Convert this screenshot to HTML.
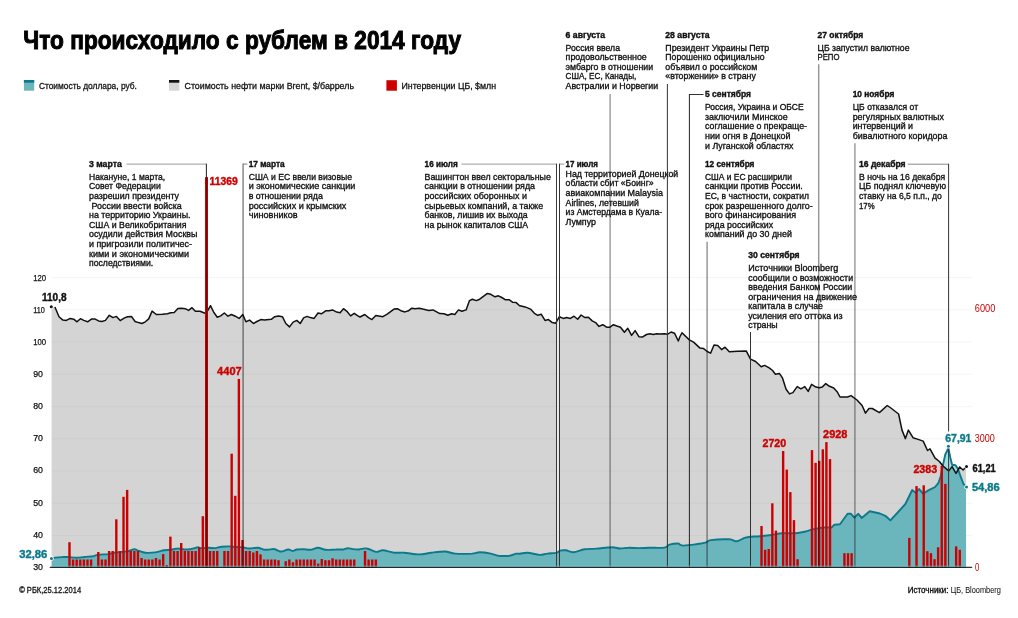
<!DOCTYPE html>
<html><head><meta charset="utf-8"><title>Что происходило с рублем в 2014 году</title>
<style>
html,body{margin:0;padding:0;background:#fff;}
body{width:1018px;height:618px;overflow:hidden;font-family:"Liberation Sans",sans-serif;}
svg{display:block;font-family:"Liberation Sans",sans-serif;}
text{white-space:pre;}
</style></head><body>
<svg width="1018" height="618" viewBox="0 0 1018 618">
<rect width="1018" height="618" fill="#fff"/>
<g stroke="#f5f5f5" stroke-width="1">
<line x1="51.6" y1="277.6" x2="972" y2="277.6"/>
<line x1="51.6" y1="309.8" x2="972" y2="309.8"/>
<line x1="51.6" y1="342.1" x2="972" y2="342.1"/>
<line x1="51.6" y1="374.3" x2="972" y2="374.3"/>
<line x1="51.6" y1="406.6" x2="972" y2="406.6"/>
<line x1="51.6" y1="438.8" x2="972" y2="438.8"/>
<line x1="51.6" y1="471.0" x2="972" y2="471.0"/>
<line x1="51.6" y1="503.3" x2="972" y2="503.3"/>
<line x1="51.6" y1="535.5" x2="972" y2="535.5"/>
</g>
<path d="M51.6,306.5 L54.9,307.0 L59.0,316.7 L62.9,320.1 L66.3,320.4 L70.2,318.4 L74.0,319.3 L77.0,321.8 L80.4,318.7 L83.8,320.4 L87.6,321.8 L91.8,318.9 L94.7,318.9 L98.6,320.9 L102.0,321.5 L105.4,320.4 L109.3,315.3 L113.0,317.6 L116.4,316.4 L120.2,320.6 L124.1,318.1 L127.5,316.7 L131.4,316.4 L135.1,321.5 L138.5,322.6 L141.9,323.5 L145.3,321.8 L148.7,318.9 L152.1,311.1 L156.3,314.5 L162.3,314.2 L167.4,313.8 L170.8,312.8 L174.2,312.5 L177.9,308.6 L181.8,308.2 L185.2,308.7 L188.6,310.4 L192.0,307.7 L195.4,311.3 L198.8,311.3 L200.0,311.3 L205.1,313.3 L207.6,310.8 L210.5,305.7 L213.9,312.5 L217.3,317.2 L220.7,315.9 L224.3,313.0 L228.0,316.2 L231.4,314.5 L235.3,316.2 L239.1,318.4 L242.8,314.5 L245.9,321.8 L249.6,320.1 L253.5,323.5 L256.9,321.5 L260.8,319.6 L264.5,320.1 L271.3,319.3 L274.7,316.7 L278.5,315.9 L282.4,316.7 L285.8,323.5 L289.5,326.9 L293.1,322.1 L296.8,320.4 L300.2,323.5 L303.6,317.9 L307.0,316.4 L310.4,317.6 L314.1,318.4 L318.0,313.0 L321.4,313.8 L325.7,310.8 L329.1,310.8 L332.5,309.9 L336.7,312.1 L340.1,312.8 L343.5,308.7 L346.9,311.3 L350.6,315.9 L354.2,313.3 L357.9,315.9 L360.0,317.0 L364.8,314.5 L368.5,317.6 L371.9,319.6 L375.8,315.5 L382.9,316.7 L387.2,314.2 L394.0,309.1 L397.4,308.7 L401.6,311.1 L405.0,311.9 L408.4,310.8 L411.8,308.2 L415.2,308.7 L419.1,308.2 L422.8,309.1 L428.8,310.4 L433.0,309.9 L439.8,313.6 L444.1,313.8 L447.8,315.3 L451.7,313.8 L454.8,314.5 L458.5,309.9 L461.9,311.3 L466.1,309.9 L469.5,300.6 L472.4,299.2 L476.3,300.6 L479.7,299.2 L487.4,293.4 L490.8,294.3 L495.0,296.8 L498.4,295.8 L501.8,297.5 L505.2,299.7 L509.1,299.7 L512.8,302.3 L516.2,302.6 L519.6,305.7 L520.0,305.7 L525.1,306.9 L530.5,309.1 L534.4,313.3 L537.8,315.3 L541.2,314.2 L545.0,320.4 L548.5,319.6 L552.3,322.6 L555.7,323.2 L559.4,316.7 L563.3,318.4 L566.7,317.6 L570.4,318.4 L574.0,316.2 L577.7,319.3 L581.1,315.0 L584.9,317.6 L588.4,317.2 L592.2,320.9 L595.6,322.6 L599.0,326.4 L602.7,324.7 L606.6,327.2 L610.0,327.2 L613.4,324.7 L616.8,326.0 L620.5,327.2 L624.4,332.3 L627.8,328.3 L631.6,335.4 L635.1,330.6 L638.9,336.7 L642.3,337.1 L646.5,334.5 L649.9,333.7 L653.3,334.5 L656.7,333.7 L660.1,334.0 L664.4,333.7 L667.8,334.2 L671.1,332.0 L674.5,333.2 L678.3,341.0 L680.0,336.5 L682.0,332.8 L689.3,339.9 L693.6,342.1 L700.0,348.1 L703.3,348.4 L707.2,351.5 L710.6,353.2 L714.0,345.0 L717.7,345.5 L721.6,349.6 L725.0,347.2 L729.3,351.8 L737.7,351.3 L746.2,350.9 L750.5,359.1 L755.6,361.5 L761.2,366.7 L764.6,365.4 L769.2,367.9 L772.6,370.5 L775.4,374.2 L779.4,373.4 L782.4,377.8 L786.1,389.2 L789.5,393.9 L792.9,392.6 L797.2,386.6 L800.9,388.8 L804.8,386.6 L808.2,391.4 L811.6,384.4 L815.9,387.1 L819.3,387.8 L822.3,387.0 L825.7,383.6 L829.5,386.3 L833.7,388.0 L837.1,391.7 L840.0,397.0 L847.6,397.0 L851.0,395.6 L857.0,400.0 L862.1,405.5 L865.5,413.1 L868.9,408.5 L872.3,408.5 L879.4,412.6 L887.2,405.5 L890.9,408.0 L898.6,414.0 L902.0,430.1 L905.4,438.6 L908.4,430.1 L913.0,437.7 L918.1,439.4 L923.2,441.1 L927.5,450.5 L930.0,448.8 L935.1,458.1 L939.4,461.5 L942.7,465.8 L948.7,470.9 L952.1,466.6 L956.0,473.4 L959.7,467.0 L963.1,470.0 L966.0,467.0 L966.1,567.4 L51.6,567.4 Z" fill="#d4d4d4"/>
<clipPath id="oc"><path d="M51.6,306.5 L54.9,307.0 L59.0,316.7 L62.9,320.1 L66.3,320.4 L70.2,318.4 L74.0,319.3 L77.0,321.8 L80.4,318.7 L83.8,320.4 L87.6,321.8 L91.8,318.9 L94.7,318.9 L98.6,320.9 L102.0,321.5 L105.4,320.4 L109.3,315.3 L113.0,317.6 L116.4,316.4 L120.2,320.6 L124.1,318.1 L127.5,316.7 L131.4,316.4 L135.1,321.5 L138.5,322.6 L141.9,323.5 L145.3,321.8 L148.7,318.9 L152.1,311.1 L156.3,314.5 L162.3,314.2 L167.4,313.8 L170.8,312.8 L174.2,312.5 L177.9,308.6 L181.8,308.2 L185.2,308.7 L188.6,310.4 L192.0,307.7 L195.4,311.3 L198.8,311.3 L200.0,311.3 L205.1,313.3 L207.6,310.8 L210.5,305.7 L213.9,312.5 L217.3,317.2 L220.7,315.9 L224.3,313.0 L228.0,316.2 L231.4,314.5 L235.3,316.2 L239.1,318.4 L242.8,314.5 L245.9,321.8 L249.6,320.1 L253.5,323.5 L256.9,321.5 L260.8,319.6 L264.5,320.1 L271.3,319.3 L274.7,316.7 L278.5,315.9 L282.4,316.7 L285.8,323.5 L289.5,326.9 L293.1,322.1 L296.8,320.4 L300.2,323.5 L303.6,317.9 L307.0,316.4 L310.4,317.6 L314.1,318.4 L318.0,313.0 L321.4,313.8 L325.7,310.8 L329.1,310.8 L332.5,309.9 L336.7,312.1 L340.1,312.8 L343.5,308.7 L346.9,311.3 L350.6,315.9 L354.2,313.3 L357.9,315.9 L360.0,317.0 L364.8,314.5 L368.5,317.6 L371.9,319.6 L375.8,315.5 L382.9,316.7 L387.2,314.2 L394.0,309.1 L397.4,308.7 L401.6,311.1 L405.0,311.9 L408.4,310.8 L411.8,308.2 L415.2,308.7 L419.1,308.2 L422.8,309.1 L428.8,310.4 L433.0,309.9 L439.8,313.6 L444.1,313.8 L447.8,315.3 L451.7,313.8 L454.8,314.5 L458.5,309.9 L461.9,311.3 L466.1,309.9 L469.5,300.6 L472.4,299.2 L476.3,300.6 L479.7,299.2 L487.4,293.4 L490.8,294.3 L495.0,296.8 L498.4,295.8 L501.8,297.5 L505.2,299.7 L509.1,299.7 L512.8,302.3 L516.2,302.6 L519.6,305.7 L520.0,305.7 L525.1,306.9 L530.5,309.1 L534.4,313.3 L537.8,315.3 L541.2,314.2 L545.0,320.4 L548.5,319.6 L552.3,322.6 L555.7,323.2 L559.4,316.7 L563.3,318.4 L566.7,317.6 L570.4,318.4 L574.0,316.2 L577.7,319.3 L581.1,315.0 L584.9,317.6 L588.4,317.2 L592.2,320.9 L595.6,322.6 L599.0,326.4 L602.7,324.7 L606.6,327.2 L610.0,327.2 L613.4,324.7 L616.8,326.0 L620.5,327.2 L624.4,332.3 L627.8,328.3 L631.6,335.4 L635.1,330.6 L638.9,336.7 L642.3,337.1 L646.5,334.5 L649.9,333.7 L653.3,334.5 L656.7,333.7 L660.1,334.0 L664.4,333.7 L667.8,334.2 L671.1,332.0 L674.5,333.2 L678.3,341.0 L680.0,336.5 L682.0,332.8 L689.3,339.9 L693.6,342.1 L700.0,348.1 L703.3,348.4 L707.2,351.5 L710.6,353.2 L714.0,345.0 L717.7,345.5 L721.6,349.6 L725.0,347.2 L729.3,351.8 L737.7,351.3 L746.2,350.9 L750.5,359.1 L755.6,361.5 L761.2,366.7 L764.6,365.4 L769.2,367.9 L772.6,370.5 L775.4,374.2 L779.4,373.4 L782.4,377.8 L786.1,389.2 L789.5,393.9 L792.9,392.6 L797.2,386.6 L800.9,388.8 L804.8,386.6 L808.2,391.4 L811.6,384.4 L815.9,387.1 L819.3,387.8 L822.3,387.0 L825.7,383.6 L829.5,386.3 L833.7,388.0 L837.1,391.7 L840.0,397.0 L847.6,397.0 L851.0,395.6 L857.0,400.0 L862.1,405.5 L865.5,413.1 L868.9,408.5 L872.3,408.5 L879.4,412.6 L887.2,405.5 L890.9,408.0 L898.6,414.0 L902.0,430.1 L905.4,438.6 L908.4,430.1 L913.0,437.7 L918.1,439.4 L923.2,441.1 L927.5,450.5 L930.0,448.8 L935.1,458.1 L939.4,461.5 L942.7,465.8 L948.7,470.9 L952.1,466.6 L956.0,473.4 L959.7,467.0 L963.1,470.0 L966.0,467.0 L966.1,567.4 L51.6,567.4 Z"/></clipPath>
<g stroke="#cecece" stroke-width="1" clip-path="url(#oc)">
<line x1="51.6" y1="277.6" x2="972" y2="277.6"/>
<line x1="51.6" y1="309.8" x2="972" y2="309.8"/>
<line x1="51.6" y1="342.1" x2="972" y2="342.1"/>
<line x1="51.6" y1="374.3" x2="972" y2="374.3"/>
<line x1="51.6" y1="406.6" x2="972" y2="406.6"/>
<line x1="51.6" y1="438.8" x2="972" y2="438.8"/>
<line x1="51.6" y1="471.0" x2="972" y2="471.0"/>
<line x1="51.6" y1="503.3" x2="972" y2="503.3"/>
<line x1="51.6" y1="535.5" x2="972" y2="535.5"/>
</g>
<rect x="557" y="300" width="2" height="266.5" fill="#e9e9e9" clip-path="url(#oc)"/>
<path d="M51.6,558.3 C52.2,558.2 53.5,557.8 55.3,557.6 C57.0,557.4 60.0,557.2 62.1,557.1 C64.2,557.0 65.6,556.8 68.0,557.0 C70.4,557.1 73.8,557.8 76.5,557.8 C79.2,557.8 81.5,557.2 84.2,557.0 C86.8,556.7 90.4,556.6 92.6,556.3 C94.9,555.9 95.2,555.3 97.7,554.9 C100.3,554.5 105.1,554.4 107.9,554.1 C110.8,553.7 112.5,553.1 114.7,552.7 C117.0,552.3 119.3,552.1 121.5,551.9 C123.8,551.6 126.2,551.6 128.3,551.2 C130.4,550.8 132.6,549.4 134.3,549.3 C136.0,549.2 136.7,550.1 138.5,550.7 C140.3,551.2 142.5,552.4 145.3,552.7 C148.1,553.0 152.4,552.8 155.5,552.4 C158.6,552.0 161.4,550.8 164.0,550.3 C166.5,549.9 168.5,550.1 170.8,549.8 C173.0,549.5 175.3,548.5 177.6,548.5 C179.8,548.4 182.1,549.4 184.4,549.5 C186.6,549.6 188.9,549.3 191.1,549.0 C193.4,548.6 196.5,547.4 197.9,547.3 C199.4,547.1 198.2,548.0 200.0,548.1 C201.8,548.2 205.9,547.8 208.5,547.8 C211.0,547.8 213.2,548.3 215.3,548.1 C217.4,548.0 219.0,547.0 221.2,546.8 C223.5,546.5 226.7,546.4 228.9,546.4 C231.0,546.4 231.7,546.6 234.0,546.8 C236.2,546.9 239.9,547.0 242.5,547.3 C245.0,547.6 246.7,548.4 249.3,548.5 C251.8,548.5 255.3,547.6 257.7,547.8 C260.1,548.0 262.0,549.1 263.7,549.5 C265.4,549.8 266.2,549.9 267.9,549.8 C269.6,549.7 272.2,548.8 273.9,549.0 C275.6,549.1 276.8,550.2 278.1,550.7 C279.4,551.1 279.8,551.7 281.5,551.5 C283.2,551.3 286.5,549.6 288.3,549.5 C290.2,549.4 291.1,551.0 292.6,551.0 C294.0,551.0 295.0,549.8 296.8,549.5 C298.6,549.2 301.3,549.1 303.6,549.1 C305.9,549.2 308.0,550.0 310.4,549.8 C312.8,549.6 315.5,547.8 318.0,547.8 C320.6,547.8 322.7,549.5 325.7,549.8 C328.6,550.1 333.0,549.5 335.9,549.5 C338.7,549.4 340.7,549.7 342.7,549.5 C344.6,549.3 346.1,548.2 347.8,548.1 C349.5,548.1 351.0,548.9 352.8,549.1 C354.7,549.4 357.6,549.5 358.8,549.5 C360.0,549.5 358.7,549.3 360.0,549.1 C361.3,549.0 364.1,548.0 366.8,548.5 C369.5,548.9 373.4,551.5 376.1,551.9 C378.8,552.2 380.0,550.2 382.9,550.3 C385.9,550.5 390.4,552.3 394.0,552.7 C397.5,553.1 399.9,552.4 404.2,552.7 C408.4,553.0 414.9,554.4 419.4,554.4 C424.0,554.4 427.1,553.2 431.3,552.7 C435.6,552.2 441.0,551.4 444.9,551.5 C448.9,551.7 450.6,553.2 455.1,553.6 C459.6,553.9 468.0,553.8 472.1,553.6 C476.2,553.3 476.6,552.2 479.7,552.2 C482.8,552.2 487.7,553.0 490.8,553.6 C493.9,554.2 495.3,555.4 498.4,555.8 C501.5,556.1 506.5,556.1 509.5,555.8 C512.4,555.4 514.5,554.1 516.2,553.7 C518.0,553.4 518.1,553.9 520.0,553.7 C521.9,553.6 524.4,552.5 527.6,552.7 C530.9,552.9 536.3,554.8 539.5,554.9 C542.8,555.1 544.4,553.9 547.2,553.6 C550.0,553.2 554.2,553.4 556.3,552.9 C558.5,552.4 558.3,551.1 559.9,550.7 C561.5,550.2 563.6,550.1 565.9,550.3 C568.1,550.6 570.4,552.4 573.5,552.2 C576.6,552.0 580.7,549.9 584.5,549.3 C588.4,548.7 591.9,549.0 596.4,548.6 C601.0,548.3 607.7,547.3 611.7,547.3 C615.7,547.2 617.4,548.4 620.2,548.5 C623.0,548.5 625.6,547.8 628.7,547.8 C631.8,547.7 635.5,548.1 638.9,548.1 C642.3,548.1 644.8,547.9 649.1,547.8 C653.3,547.7 661.0,548.1 664.4,547.6 C667.8,547.1 667.2,545.4 669.5,544.7 C671.7,544.0 676.2,543.5 677.9,543.5 C679.7,543.5 679.1,544.4 680.0,544.7 C680.9,545.1 680.8,545.6 683.4,545.6 C685.9,545.5 691.6,544.9 695.3,544.4 C699.0,543.9 702.9,543.4 705.5,542.7 C708.0,542.0 706.6,540.7 710.6,540.1 C714.5,539.6 724.9,539.1 729.3,539.3 C733.6,539.5 734.3,541.6 736.9,541.3 C739.4,541.1 742.3,538.7 744.5,537.9 C746.8,537.2 747.9,537.0 750.5,536.7 C753.0,536.5 756.3,536.5 759.8,536.2 C763.4,536.0 768.0,535.6 771.7,535.0 C775.4,534.5 777.9,533.5 781.9,533.2 C785.9,532.9 791.5,533.5 795.5,533.2 C799.4,532.9 802.8,532.1 805.7,531.5 C808.5,530.9 809.1,530.1 812.5,529.4 C815.9,528.7 822.9,527.5 826.1,527.2 C829.2,526.9 829.7,528.2 831.1,527.7 C832.6,527.3 833.1,525.3 834.5,524.7 C834.5,524.7 840.0,524.3 840.0,524.3 C840.0,524.3 847.6,513.8 847.6,513.8 C847.6,513.8 851.0,513.8 851.0,513.8 C851.0,513.8 854.4,517.6 854.4,517.6 C854.4,517.6 858.3,513.8 858.3,513.8 C858.3,513.8 861.7,517.9 861.7,517.9 C861.7,517.9 869.7,511.3 869.7,511.3 C869.7,511.3 879.9,513.5 879.9,513.5 C879.9,513.5 885.9,516.2 885.9,516.2 C885.9,516.2 890.4,520.4 890.4,520.4 C890.4,520.4 897.7,512.5 897.7,512.5 C897.7,512.5 905.4,504.0 905.4,504.0 C905.4,504.0 912.2,490.0 912.2,490.0 C912.2,490.0 915.6,492.9 915.6,492.9 C915.6,492.9 919.0,489.0 919.0,489.0 C919.0,489.0 923.2,493.8 923.2,493.8 C923.2,493.8 928.3,490.4 928.3,490.4 C928.3,490.4 935.1,487.0 935.1,487.0 C935.1,487.0 938.5,482.8 938.5,482.8 C938.5,482.8 940.8,476.0 940.8,476.0 C940.8,476.0 943.0,464.7 943.0,464.7 C943.0,464.7 945.3,454.5 945.3,454.5 C945.3,454.5 948.4,448.2 948.4,448.2 C948.4,448.2 950.4,457.9 950.4,457.9 C950.4,457.9 952.1,464.7 952.1,464.7 C952.1,464.7 955.5,465.2 955.5,465.2 C955.5,465.2 957.8,468.6 957.8,468.6 C957.8,468.6 960.0,474.8 960.0,474.8 C960.0,474.8 963.4,483.9 963.4,483.9 C963.4,483.9 966.0,487.0 966.0,487.0 L966.1,567.4 L51.6,567.4 Z" fill="#a5dde3"/>
<path d="M51.6,558.3 C52.2,558.2 53.5,557.8 55.3,557.6 C57.0,557.4 60.0,557.2 62.1,557.1 C64.2,557.0 65.6,556.8 68.0,557.0 C70.4,557.1 73.8,557.8 76.5,557.8 C79.2,557.8 81.5,557.2 84.2,557.0 C86.8,556.7 90.4,556.6 92.6,556.3 C94.9,555.9 95.2,555.3 97.7,554.9 C100.3,554.5 105.1,554.4 107.9,554.1 C110.8,553.7 112.5,553.1 114.7,552.7 C117.0,552.3 119.3,552.1 121.5,551.9 C123.8,551.6 126.2,551.6 128.3,551.2 C130.4,550.8 132.6,549.4 134.3,549.3 C136.0,549.2 136.7,550.1 138.5,550.7 C140.3,551.2 142.5,552.4 145.3,552.7 C148.1,553.0 152.4,552.8 155.5,552.4 C158.6,552.0 161.4,550.8 164.0,550.3 C166.5,549.9 168.5,550.1 170.8,549.8 C173.0,549.5 175.3,548.5 177.6,548.5 C179.8,548.4 182.1,549.4 184.4,549.5 C186.6,549.6 188.9,549.3 191.1,549.0 C193.4,548.6 196.5,547.4 197.9,547.3 C199.4,547.1 198.2,548.0 200.0,548.1 C201.8,548.2 205.9,547.8 208.5,547.8 C211.0,547.8 213.2,548.3 215.3,548.1 C217.4,548.0 219.0,547.0 221.2,546.8 C223.5,546.5 226.7,546.4 228.9,546.4 C231.0,546.4 231.7,546.6 234.0,546.8 C236.2,546.9 239.9,547.0 242.5,547.3 C245.0,547.6 246.7,548.4 249.3,548.5 C251.8,548.5 255.3,547.6 257.7,547.8 C260.1,548.0 262.0,549.1 263.7,549.5 C265.4,549.8 266.2,549.9 267.9,549.8 C269.6,549.7 272.2,548.8 273.9,549.0 C275.6,549.1 276.8,550.2 278.1,550.7 C279.4,551.1 279.8,551.7 281.5,551.5 C283.2,551.3 286.5,549.6 288.3,549.5 C290.2,549.4 291.1,551.0 292.6,551.0 C294.0,551.0 295.0,549.8 296.8,549.5 C298.6,549.2 301.3,549.1 303.6,549.1 C305.9,549.2 308.0,550.0 310.4,549.8 C312.8,549.6 315.5,547.8 318.0,547.8 C320.6,547.8 322.7,549.5 325.7,549.8 C328.6,550.1 333.0,549.5 335.9,549.5 C338.7,549.4 340.7,549.7 342.7,549.5 C344.6,549.3 346.1,548.2 347.8,548.1 C349.5,548.1 351.0,548.9 352.8,549.1 C354.7,549.4 357.6,549.5 358.8,549.5 C360.0,549.5 358.7,549.3 360.0,549.1 C361.3,549.0 364.1,548.0 366.8,548.5 C369.5,548.9 373.4,551.5 376.1,551.9 C378.8,552.2 380.0,550.2 382.9,550.3 C385.9,550.5 390.4,552.3 394.0,552.7 C397.5,553.1 399.9,552.4 404.2,552.7 C408.4,553.0 414.9,554.4 419.4,554.4 C424.0,554.4 427.1,553.2 431.3,552.7 C435.6,552.2 441.0,551.4 444.9,551.5 C448.9,551.7 450.6,553.2 455.1,553.6 C459.6,553.9 468.0,553.8 472.1,553.6 C476.2,553.3 476.6,552.2 479.7,552.2 C482.8,552.2 487.7,553.0 490.8,553.6 C493.9,554.2 495.3,555.4 498.4,555.8 C501.5,556.1 506.5,556.1 509.5,555.8 C512.4,555.4 514.5,554.1 516.2,553.7 C518.0,553.4 518.1,553.9 520.0,553.7 C521.9,553.6 524.4,552.5 527.6,552.7 C530.9,552.9 536.3,554.8 539.5,554.9 C542.8,555.1 544.4,553.9 547.2,553.6 C550.0,553.2 554.2,553.4 556.3,552.9 C558.5,552.4 558.3,551.1 559.9,550.7 C561.5,550.2 563.6,550.1 565.9,550.3 C568.1,550.6 570.4,552.4 573.5,552.2 C576.6,552.0 580.7,549.9 584.5,549.3 C588.4,548.7 591.9,549.0 596.4,548.6 C601.0,548.3 607.7,547.3 611.7,547.3 C615.7,547.2 617.4,548.4 620.2,548.5 C623.0,548.5 625.6,547.8 628.7,547.8 C631.8,547.7 635.5,548.1 638.9,548.1 C642.3,548.1 644.8,547.9 649.1,547.8 C653.3,547.7 661.0,548.1 664.4,547.6 C667.8,547.1 667.2,545.4 669.5,544.7 C671.7,544.0 676.2,543.5 677.9,543.5 C679.7,543.5 679.1,544.4 680.0,544.7 C680.9,545.1 680.8,545.6 683.4,545.6 C685.9,545.5 691.6,544.9 695.3,544.4 C699.0,543.9 702.9,543.4 705.5,542.7 C708.0,542.0 706.6,540.7 710.6,540.1 C714.5,539.6 724.9,539.1 729.3,539.3 C733.6,539.5 734.3,541.6 736.9,541.3 C739.4,541.1 742.3,538.7 744.5,537.9 C746.8,537.2 747.9,537.0 750.5,536.7 C753.0,536.5 756.3,536.5 759.8,536.2 C763.4,536.0 768.0,535.6 771.7,535.0 C775.4,534.5 777.9,533.5 781.9,533.2 C785.9,532.9 791.5,533.5 795.5,533.2 C799.4,532.9 802.8,532.1 805.7,531.5 C808.5,530.9 809.1,530.1 812.5,529.4 C815.9,528.7 822.9,527.5 826.1,527.2 C829.2,526.9 829.7,528.2 831.1,527.7 C832.6,527.3 833.1,525.3 834.5,524.7 C834.5,524.7 840.0,524.3 840.0,524.3 C840.0,524.3 847.6,513.8 847.6,513.8 C847.6,513.8 851.0,513.8 851.0,513.8 C851.0,513.8 854.4,517.6 854.4,517.6 C854.4,517.6 858.3,513.8 858.3,513.8 C858.3,513.8 861.7,517.9 861.7,517.9 C861.7,517.9 869.7,511.3 869.7,511.3 C869.7,511.3 879.9,513.5 879.9,513.5 C879.9,513.5 885.9,516.2 885.9,516.2 C885.9,516.2 890.4,520.4 890.4,520.4 C890.4,520.4 897.7,512.5 897.7,512.5 C897.7,512.5 905.4,504.0 905.4,504.0 C905.4,504.0 912.2,490.0 912.2,490.0 C912.2,490.0 915.6,492.9 915.6,492.9 C915.6,492.9 919.0,489.0 919.0,489.0 C919.0,489.0 923.2,493.8 923.2,493.8 C923.2,493.8 928.3,490.4 928.3,490.4 C928.3,490.4 935.1,487.0 935.1,487.0 C935.1,487.0 938.5,482.8 938.5,482.8 C938.5,482.8 940.8,476.0 940.8,476.0 C940.8,476.0 943.0,464.7 943.0,464.7 C943.0,464.7 945.3,454.5 945.3,454.5 C945.3,454.5 948.4,448.2 948.4,448.2 C948.4,448.2 950.4,457.9 950.4,457.9 C950.4,457.9 952.1,464.7 952.1,464.7 C952.1,464.7 955.5,465.2 955.5,465.2 C955.5,465.2 957.8,468.6 957.8,468.6 C957.8,468.6 960.0,474.8 960.0,474.8 C960.0,474.8 963.4,483.9 963.4,483.9 C963.4,483.9 966.0,487.0 966.0,487.0 L966.1,567.4 L51.6,567.4 Z" fill="#6bb5bd" clip-path="url(#oc)"/>
<path d="M51.6,558.3 C52.2,558.2 53.5,557.8 55.3,557.6 C57.0,557.4 60.0,557.2 62.1,557.1 C64.2,557.0 65.6,556.8 68.0,557.0 C70.4,557.1 73.8,557.8 76.5,557.8 C79.2,557.8 81.5,557.2 84.2,557.0 C86.8,556.7 90.4,556.6 92.6,556.3 C94.9,555.9 95.2,555.3 97.7,554.9 C100.3,554.5 105.1,554.4 107.9,554.1 C110.8,553.7 112.5,553.1 114.7,552.7 C117.0,552.3 119.3,552.1 121.5,551.9 C123.8,551.6 126.2,551.6 128.3,551.2 C130.4,550.8 132.6,549.4 134.3,549.3 C136.0,549.2 136.7,550.1 138.5,550.7 C140.3,551.2 142.5,552.4 145.3,552.7 C148.1,553.0 152.4,552.8 155.5,552.4 C158.6,552.0 161.4,550.8 164.0,550.3 C166.5,549.9 168.5,550.1 170.8,549.8 C173.0,549.5 175.3,548.5 177.6,548.5 C179.8,548.4 182.1,549.4 184.4,549.5 C186.6,549.6 188.9,549.3 191.1,549.0 C193.4,548.6 196.5,547.4 197.9,547.3 C199.4,547.1 198.2,548.0 200.0,548.1 C201.8,548.2 205.9,547.8 208.5,547.8 C211.0,547.8 213.2,548.3 215.3,548.1 C217.4,548.0 219.0,547.0 221.2,546.8 C223.5,546.5 226.7,546.4 228.9,546.4 C231.0,546.4 231.7,546.6 234.0,546.8 C236.2,546.9 239.9,547.0 242.5,547.3 C245.0,547.6 246.7,548.4 249.3,548.5 C251.8,548.5 255.3,547.6 257.7,547.8 C260.1,548.0 262.0,549.1 263.7,549.5 C265.4,549.8 266.2,549.9 267.9,549.8 C269.6,549.7 272.2,548.8 273.9,549.0 C275.6,549.1 276.8,550.2 278.1,550.7 C279.4,551.1 279.8,551.7 281.5,551.5 C283.2,551.3 286.5,549.6 288.3,549.5 C290.2,549.4 291.1,551.0 292.6,551.0 C294.0,551.0 295.0,549.8 296.8,549.5 C298.6,549.2 301.3,549.1 303.6,549.1 C305.9,549.2 308.0,550.0 310.4,549.8 C312.8,549.6 315.5,547.8 318.0,547.8 C320.6,547.8 322.7,549.5 325.7,549.8 C328.6,550.1 333.0,549.5 335.9,549.5 C338.7,549.4 340.7,549.7 342.7,549.5 C344.6,549.3 346.1,548.2 347.8,548.1 C349.5,548.1 351.0,548.9 352.8,549.1 C354.7,549.4 357.6,549.5 358.8,549.5 C360.0,549.5 358.7,549.3 360.0,549.1 C361.3,549.0 364.1,548.0 366.8,548.5 C369.5,548.9 373.4,551.5 376.1,551.9 C378.8,552.2 380.0,550.2 382.9,550.3 C385.9,550.5 390.4,552.3 394.0,552.7 C397.5,553.1 399.9,552.4 404.2,552.7 C408.4,553.0 414.9,554.4 419.4,554.4 C424.0,554.4 427.1,553.2 431.3,552.7 C435.6,552.2 441.0,551.4 444.9,551.5 C448.9,551.7 450.6,553.2 455.1,553.6 C459.6,553.9 468.0,553.8 472.1,553.6 C476.2,553.3 476.6,552.2 479.7,552.2 C482.8,552.2 487.7,553.0 490.8,553.6 C493.9,554.2 495.3,555.4 498.4,555.8 C501.5,556.1 506.5,556.1 509.5,555.8 C512.4,555.4 514.5,554.1 516.2,553.7 C518.0,553.4 518.1,553.9 520.0,553.7 C521.9,553.6 524.4,552.5 527.6,552.7 C530.9,552.9 536.3,554.8 539.5,554.9 C542.8,555.1 544.4,553.9 547.2,553.6 C550.0,553.2 554.2,553.4 556.3,552.9 C558.5,552.4 558.3,551.1 559.9,550.7 C561.5,550.2 563.6,550.1 565.9,550.3 C568.1,550.6 570.4,552.4 573.5,552.2 C576.6,552.0 580.7,549.9 584.5,549.3 C588.4,548.7 591.9,549.0 596.4,548.6 C601.0,548.3 607.7,547.3 611.7,547.3 C615.7,547.2 617.4,548.4 620.2,548.5 C623.0,548.5 625.6,547.8 628.7,547.8 C631.8,547.7 635.5,548.1 638.9,548.1 C642.3,548.1 644.8,547.9 649.1,547.8 C653.3,547.7 661.0,548.1 664.4,547.6 C667.8,547.1 667.2,545.4 669.5,544.7 C671.7,544.0 676.2,543.5 677.9,543.5 C679.7,543.5 679.1,544.4 680.0,544.7 C680.9,545.1 680.8,545.6 683.4,545.6 C685.9,545.5 691.6,544.9 695.3,544.4 C699.0,543.9 702.9,543.4 705.5,542.7 C708.0,542.0 706.6,540.7 710.6,540.1 C714.5,539.6 724.9,539.1 729.3,539.3 C733.6,539.5 734.3,541.6 736.9,541.3 C739.4,541.1 742.3,538.7 744.5,537.9 C746.8,537.2 747.9,537.0 750.5,536.7 C753.0,536.5 756.3,536.5 759.8,536.2 C763.4,536.0 768.0,535.6 771.7,535.0 C775.4,534.5 777.9,533.5 781.9,533.2 C785.9,532.9 791.5,533.5 795.5,533.2 C799.4,532.9 802.8,532.1 805.7,531.5 C808.5,530.9 809.1,530.1 812.5,529.4 C815.9,528.7 822.9,527.5 826.1,527.2 C829.2,526.9 829.7,528.2 831.1,527.7 C832.6,527.3 833.1,525.3 834.5,524.7 C834.5,524.7 840.0,524.3 840.0,524.3 C840.0,524.3 847.6,513.8 847.6,513.8 C847.6,513.8 851.0,513.8 851.0,513.8 C851.0,513.8 854.4,517.6 854.4,517.6 C854.4,517.6 858.3,513.8 858.3,513.8 C858.3,513.8 861.7,517.9 861.7,517.9 C861.7,517.9 869.7,511.3 869.7,511.3 C869.7,511.3 879.9,513.5 879.9,513.5 C879.9,513.5 885.9,516.2 885.9,516.2 C885.9,516.2 890.4,520.4 890.4,520.4 C890.4,520.4 897.7,512.5 897.7,512.5 C897.7,512.5 905.4,504.0 905.4,504.0 C905.4,504.0 912.2,490.0 912.2,490.0 C912.2,490.0 915.6,492.9 915.6,492.9 C915.6,492.9 919.0,489.0 919.0,489.0 C919.0,489.0 923.2,493.8 923.2,493.8 C923.2,493.8 928.3,490.4 928.3,490.4 C928.3,490.4 935.1,487.0 935.1,487.0 C935.1,487.0 938.5,482.8 938.5,482.8 C938.5,482.8 940.8,476.0 940.8,476.0 C940.8,476.0 943.0,464.7 943.0,464.7 C943.0,464.7 945.3,454.5 945.3,454.5 C945.3,454.5 948.4,448.2 948.4,448.2 C948.4,448.2 950.4,457.9 950.4,457.9 C950.4,457.9 952.1,464.7 952.1,464.7 C952.1,464.7 955.5,465.2 955.5,465.2 C955.5,465.2 957.8,468.6 957.8,468.6 C957.8,468.6 960.0,474.8 960.0,474.8 C960.0,474.8 963.4,483.9 963.4,483.9 C963.4,483.9 966.0,487.0 966.0,487.0" fill="none" stroke="#0c7a8a" stroke-width="1.9" stroke-linejoin="round"/>
<path d="M54.9,307.0 L59.0,316.7 L62.9,320.1 L66.3,320.4 L70.2,318.4 L74.0,319.3 L77.0,321.8 L80.4,318.7 L83.8,320.4 L87.6,321.8 L91.8,318.9 L94.7,318.9 L98.6,320.9 L102.0,321.5 L105.4,320.4 L109.3,315.3 L113.0,317.6 L116.4,316.4 L120.2,320.6 L124.1,318.1 L127.5,316.7 L131.4,316.4 L135.1,321.5 L138.5,322.6 L141.9,323.5 L145.3,321.8 L148.7,318.9 L152.1,311.1 L156.3,314.5 L162.3,314.2 L167.4,313.8 L170.8,312.8 L174.2,312.5 L177.9,308.6 L181.8,308.2 L185.2,308.7 L188.6,310.4 L192.0,307.7 L195.4,311.3 L198.8,311.3 L200.0,311.3 L205.1,313.3 L207.6,310.8 L210.5,305.7 L213.9,312.5 L217.3,317.2 L220.7,315.9 L224.3,313.0 L228.0,316.2 L231.4,314.5 L235.3,316.2 L239.1,318.4 L242.8,314.5 L245.9,321.8 L249.6,320.1 L253.5,323.5 L256.9,321.5 L260.8,319.6 L264.5,320.1 L271.3,319.3 L274.7,316.7 L278.5,315.9 L282.4,316.7 L285.8,323.5 L289.5,326.9 L293.1,322.1 L296.8,320.4 L300.2,323.5 L303.6,317.9 L307.0,316.4 L310.4,317.6 L314.1,318.4 L318.0,313.0 L321.4,313.8 L325.7,310.8 L329.1,310.8 L332.5,309.9 L336.7,312.1 L340.1,312.8 L343.5,308.7 L346.9,311.3 L350.6,315.9 L354.2,313.3 L357.9,315.9 L360.0,317.0 L364.8,314.5 L368.5,317.6 L371.9,319.6 L375.8,315.5 L382.9,316.7 L387.2,314.2 L394.0,309.1 L397.4,308.7 L401.6,311.1 L405.0,311.9 L408.4,310.8 L411.8,308.2 L415.2,308.7 L419.1,308.2 L422.8,309.1 L428.8,310.4 L433.0,309.9 L439.8,313.6 L444.1,313.8 L447.8,315.3 L451.7,313.8 L454.8,314.5 L458.5,309.9 L461.9,311.3 L466.1,309.9 L469.5,300.6 L472.4,299.2 L476.3,300.6 L479.7,299.2 L487.4,293.4 L490.8,294.3 L495.0,296.8 L498.4,295.8 L501.8,297.5 L505.2,299.7 L509.1,299.7 L512.8,302.3 L516.2,302.6 L519.6,305.7 L520.0,305.7 L525.1,306.9 L530.5,309.1 L534.4,313.3 L537.8,315.3 L541.2,314.2 L545.0,320.4 L548.5,319.6 L552.3,322.6 L555.7,323.2 L559.4,316.7 L563.3,318.4 L566.7,317.6 L570.4,318.4 L574.0,316.2 L577.7,319.3 L581.1,315.0 L584.9,317.6 L588.4,317.2 L592.2,320.9 L595.6,322.6 L599.0,326.4 L602.7,324.7 L606.6,327.2 L610.0,327.2 L613.4,324.7 L616.8,326.0 L620.5,327.2 L624.4,332.3 L627.8,328.3 L631.6,335.4 L635.1,330.6 L638.9,336.7 L642.3,337.1 L646.5,334.5 L649.9,333.7 L653.3,334.5 L656.7,333.7 L660.1,334.0 L664.4,333.7 L667.8,334.2 L671.1,332.0 L674.5,333.2 L678.3,341.0 L680.0,336.5 L682.0,332.8 L689.3,339.9 L693.6,342.1 L700.0,348.1 L703.3,348.4 L707.2,351.5 L710.6,353.2 L714.0,345.0 L717.7,345.5 L721.6,349.6 L725.0,347.2 L729.3,351.8 L737.7,351.3 L746.2,350.9 L750.5,359.1 L755.6,361.5 L761.2,366.7 L764.6,365.4 L769.2,367.9 L772.6,370.5 L775.4,374.2 L779.4,373.4 L782.4,377.8 L786.1,389.2 L789.5,393.9 L792.9,392.6 L797.2,386.6 L800.9,388.8 L804.8,386.6 L808.2,391.4 L811.6,384.4 L815.9,387.1 L819.3,387.8 L822.3,387.0 L825.7,383.6 L829.5,386.3 L833.7,388.0 L837.1,391.7 L840.0,397.0 L847.6,397.0 L851.0,395.6 L857.0,400.0 L862.1,405.5 L865.5,413.1 L868.9,408.5 L872.3,408.5 L879.4,412.6 L887.2,405.5 L890.9,408.0 L898.6,414.0 L902.0,430.1 L905.4,438.6 L908.4,430.1 L913.0,437.7 L918.1,439.4 L923.2,441.1 L927.5,450.5 L930.0,448.8 L935.1,458.1 L939.4,461.5 L942.7,465.8 L948.7,470.9 L952.1,466.6 L956.0,473.4 L959.7,467.0 L963.1,470.0 L966.0,467.0" fill="none" stroke="#111" stroke-width="1.5" stroke-linejoin="round"/>
<g fill="#cc0000">
<rect x="68.27" y="542.2" width="2.4" height="25.2"/>
<rect x="71.87" y="559.5" width="2.4" height="7.9"/>
<rect x="75.47" y="559.5" width="2.4" height="7.9"/>
<rect x="79.08" y="559.5" width="2.4" height="7.9"/>
<rect x="82.68" y="559.5" width="2.4" height="7.9"/>
<rect x="86.29" y="559.5" width="2.4" height="7.9"/>
<rect x="89.89" y="559.5" width="2.4" height="7.9"/>
<rect x="97.10" y="552.0" width="2.4" height="15.4"/>
<rect x="100.71" y="559.5" width="2.4" height="7.9"/>
<rect x="104.31" y="559.5" width="2.4" height="7.9"/>
<rect x="107.91" y="551.0" width="2.4" height="16.4"/>
<rect x="111.52" y="551.0" width="2.4" height="16.4"/>
<rect x="115.12" y="519.3" width="2.4" height="48.1"/>
<rect x="118.73" y="551.0" width="2.4" height="16.4"/>
<rect x="122.33" y="496.8" width="2.4" height="70.6"/>
<rect x="125.94" y="489.9" width="2.4" height="77.5"/>
<rect x="129.54" y="551.0" width="2.4" height="16.4"/>
<rect x="133.15" y="551.0" width="2.4" height="16.4"/>
<rect x="136.75" y="551.0" width="2.4" height="16.4"/>
<rect x="140.35" y="558.0" width="2.4" height="9.4"/>
<rect x="143.96" y="559.5" width="2.4" height="7.9"/>
<rect x="147.56" y="559.5" width="2.4" height="7.9"/>
<rect x="151.17" y="559.5" width="2.4" height="7.9"/>
<rect x="154.77" y="558.0" width="2.4" height="9.4"/>
<rect x="158.38" y="559.5" width="2.4" height="7.9"/>
<rect x="161.98" y="554.1" width="2.4" height="13.3"/>
<rect x="165.59" y="565.1" width="2.4" height="2.3"/>
<rect x="169.19" y="536.6" width="2.4" height="30.8"/>
<rect x="172.79" y="551.0" width="2.4" height="16.4"/>
<rect x="176.40" y="551.0" width="2.4" height="16.4"/>
<rect x="180.00" y="543.0" width="2.4" height="24.4"/>
<rect x="183.61" y="551.0" width="2.4" height="16.4"/>
<rect x="187.21" y="551.0" width="2.4" height="16.4"/>
<rect x="190.82" y="551.0" width="2.4" height="16.4"/>
<rect x="194.42" y="551.0" width="2.4" height="16.4"/>
<rect x="198.03" y="547.3" width="2.4" height="20.1"/>
<rect x="201.63" y="516.2" width="2.4" height="51.2"/>
<rect x="205.00" y="177.2" width="3.0" height="390.2"/>
<rect x="208.84" y="551.0" width="2.4" height="16.4"/>
<rect x="212.44" y="551.0" width="2.4" height="16.4"/>
<rect x="216.05" y="551.0" width="2.4" height="16.4"/>
<rect x="223.26" y="551.0" width="2.4" height="16.4"/>
<rect x="226.86" y="551.0" width="2.4" height="16.4"/>
<rect x="230.47" y="453.7" width="2.4" height="113.7"/>
<rect x="234.07" y="495.8" width="2.4" height="71.6"/>
<rect x="237.68" y="378.9" width="2.4" height="188.5"/>
<rect x="241.28" y="540.0" width="2.4" height="27.4"/>
<rect x="244.88" y="551.0" width="2.4" height="16.4"/>
<rect x="248.49" y="551.0" width="2.4" height="16.4"/>
<rect x="252.09" y="552.5" width="2.4" height="14.9"/>
<rect x="255.70" y="551.0" width="2.4" height="16.4"/>
<rect x="259.30" y="554.4" width="2.4" height="13.0"/>
<rect x="262.91" y="559.5" width="2.4" height="7.9"/>
<rect x="266.51" y="559.5" width="2.4" height="7.9"/>
<rect x="270.12" y="559.5" width="2.4" height="7.9"/>
<rect x="273.72" y="559.5" width="2.4" height="7.9"/>
<rect x="277.32" y="560.2" width="2.4" height="7.2"/>
<rect x="284.53" y="561.2" width="2.4" height="6.2"/>
<rect x="288.14" y="559.5" width="2.4" height="7.9"/>
<rect x="291.74" y="562.2" width="2.4" height="5.2"/>
<rect x="295.35" y="559.5" width="2.4" height="7.9"/>
<rect x="298.95" y="559.5" width="2.4" height="7.9"/>
<rect x="302.56" y="559.5" width="2.4" height="7.9"/>
<rect x="306.16" y="559.5" width="2.4" height="7.9"/>
<rect x="309.76" y="559.5" width="2.4" height="7.9"/>
<rect x="313.37" y="559.5" width="2.4" height="7.9"/>
<rect x="316.97" y="563.6" width="2.4" height="3.8"/>
<rect x="320.58" y="559.0" width="2.4" height="8.4"/>
<rect x="324.18" y="560.2" width="2.4" height="7.2"/>
<rect x="327.79" y="560.2" width="2.4" height="7.2"/>
<rect x="331.39" y="558.3" width="2.4" height="9.1"/>
<rect x="335.00" y="559.5" width="2.4" height="7.9"/>
<rect x="338.60" y="559.5" width="2.4" height="7.9"/>
<rect x="342.20" y="559.5" width="2.4" height="7.9"/>
<rect x="345.81" y="559.5" width="2.4" height="7.9"/>
<rect x="349.41" y="559.5" width="2.4" height="7.9"/>
<rect x="353.02" y="559.5" width="2.4" height="7.9"/>
<rect x="363.83" y="551.0" width="2.4" height="16.4"/>
<rect x="367.44" y="559.5" width="2.4" height="7.9"/>
<rect x="371.04" y="559.5" width="2.4" height="7.9"/>
<rect x="374.64" y="559.5" width="2.4" height="7.9"/>
<rect x="760.32" y="526.0" width="2.4" height="41.4"/>
<rect x="763.93" y="549.8" width="2.4" height="17.6"/>
<rect x="767.53" y="549.0" width="2.4" height="18.4"/>
<rect x="771.14" y="503.3" width="2.4" height="64.1"/>
<rect x="774.74" y="530.6" width="2.4" height="36.8"/>
<rect x="778.35" y="566.3" width="2.4" height="1.1"/>
<rect x="781.95" y="451.0" width="2.4" height="116.4"/>
<rect x="785.55" y="469.6" width="2.4" height="97.8"/>
<rect x="789.16" y="492.1" width="2.4" height="75.3"/>
<rect x="792.76" y="520.1" width="2.4" height="47.3"/>
<rect x="796.37" y="559.2" width="2.4" height="8.2"/>
<rect x="810.79" y="450.1" width="2.4" height="117.3"/>
<rect x="814.39" y="462.8" width="2.4" height="104.6"/>
<rect x="817.99" y="460.8" width="2.4" height="106.6"/>
<rect x="821.60" y="449.3" width="2.4" height="118.1"/>
<rect x="825.20" y="442.1" width="2.4" height="125.3"/>
<rect x="828.81" y="459.1" width="2.4" height="108.3"/>
<rect x="843.23" y="553.2" width="2.4" height="14.2"/>
<rect x="846.83" y="553.2" width="2.4" height="14.2"/>
<rect x="850.43" y="553.2" width="2.4" height="14.2"/>
<rect x="908.11" y="537.9" width="2.4" height="29.5"/>
<rect x="915.32" y="486.1" width="2.4" height="81.3"/>
<rect x="922.52" y="485.3" width="2.4" height="82.1"/>
<rect x="926.13" y="551.2" width="2.4" height="16.2"/>
<rect x="929.73" y="553.2" width="2.4" height="14.2"/>
<rect x="933.34" y="559.2" width="2.4" height="8.2"/>
<rect x="936.94" y="547.3" width="2.4" height="20.1"/>
<rect x="940.55" y="465.8" width="2.4" height="101.6"/>
<rect x="944.15" y="483.9" width="2.4" height="83.5"/>
<rect x="954.96" y="546.4" width="2.4" height="21.0"/>
<rect x="958.57" y="549.8" width="2.4" height="17.6"/>
</g>
<line x1="126.6" y1="164.1" x2="206.0" y2="164.1" stroke="#999" stroke-width="1"/>
<line x1="206.4" y1="163.6" x2="206.4" y2="177.5" stroke="#222" stroke-width="1"/>
<line x1="206.7" y1="177.2" x2="206.7" y2="567.4" stroke="#4a0000" stroke-width="0.9"/>
<line x1="243.1" y1="163.6" x2="243.1" y2="567.4" stroke="#8a8a8a" stroke-width="1.5" style="mix-blend-mode:multiply"/>
<line x1="243.1" y1="164.1" x2="247.4" y2="164.1" stroke="#808080" stroke-width="1"/>
<line x1="461.5" y1="164.1" x2="556.0" y2="164.1" stroke="#999" stroke-width="1"/>
<line x1="556.5" y1="163.6" x2="556.5" y2="567.4" stroke="#3a3a3a" stroke-width="1"/>
<line x1="559.5" y1="163.6" x2="559.5" y2="567.4" stroke="#333" stroke-width="1"/>
<line x1="560.0" y1="164.1" x2="564.4" y2="164.1" stroke="#999" stroke-width="1"/>
<line x1="610.1" y1="93.9" x2="610.1" y2="567.4" stroke="#a0a0a0" stroke-width="1.5" style="mix-blend-mode:multiply"/>
<line x1="667.4" y1="84.0" x2="667.4" y2="567.4" stroke="#333" stroke-width="1"/>
<line x1="688.9" y1="94.5" x2="703.5" y2="94.5" stroke="#333" stroke-width="1"/>
<line x1="689.4" y1="94.5" x2="689.4" y2="567.4" stroke="#222" stroke-width="1"/>
<line x1="707.1" y1="241.7" x2="707.1" y2="567.4" stroke="#909090" stroke-width="1.4" style="mix-blend-mode:multiply"/>
<line x1="750.5" y1="332.0" x2="750.5" y2="567.4" stroke="#333" stroke-width="1"/>
<line x1="818.7" y1="64.2" x2="818.7" y2="567.4" stroke="#949494" stroke-width="1.4" style="mix-blend-mode:multiply"/>
<line x1="854.9" y1="143.3" x2="854.9" y2="567.4" stroke="#989898" stroke-width="1.4" style="mix-blend-mode:multiply"/>
<line x1="907.7" y1="164.2" x2="948.2" y2="164.2" stroke="#888" stroke-width="1"/>
<line x1="948.6" y1="163.7" x2="948.6" y2="431.5" stroke="#333" stroke-width="1"/>
<line x1="948.6" y1="448.5" x2="948.6" y2="567.4" stroke="#333" stroke-width="1"/>
<line x1="51.6" y1="566.3" x2="966.1" y2="566.3" stroke="#86d6de" stroke-width="0.8"/>
<line x1="49.7" y1="567.3" x2="972.2" y2="567.3" stroke="#000" stroke-width="1.0"/>
<circle cx="51.3" cy="306.7" r="2.3" fill="#fff"/><circle cx="51.3" cy="306.7" r="1.5" fill="#111"/>
<circle cx="51.5" cy="558.4" r="2.3" fill="#fff"/><circle cx="51.5" cy="558.4" r="1.5" fill="#0c7a8a"/>
<circle cx="948.4" cy="446.3" r="2.3" fill="#fff"/><circle cx="948.4" cy="446.3" r="1.5" fill="#0c7a8a"/>
<circle cx="966.5" cy="466.6" r="2.3" fill="#fff"/><circle cx="966.5" cy="466.6" r="1.5" fill="#111"/>
<circle cx="966.5" cy="487.0" r="2.3" fill="#fff"/><circle cx="966.5" cy="487.0" r="1.5" fill="#0c7a8a"/>
<rect x="23.9" y="80" width="10.3" height="10.7" fill="#6bb5bd"/><rect x="23.9" y="80" width="10.3" height="2.7" fill="#0c7a8a"/>
<rect x="169" y="80" width="10.3" height="10.7" fill="#d4d4d4"/><rect x="169" y="80" width="10.3" height="2.7" fill="#111"/>
<rect x="386.4" y="80.2" width="10.5" height="10.5" fill="#cc0000"/>
</svg>
<svg width="1018" height="618" viewBox="0 0 1018 618" style="position:absolute;left:0;top:0;opacity:0.999;will-change:opacity">
<text x="23.3" y="48.9" font-size="25.2" fill="#000" stroke="#000" stroke-width="1.0" textLength="437.7" lengthAdjust="spacingAndGlyphs" font-weight="bold">Что происходило с рублем в 2014 году</text>
<text x="38.9" y="89.4" font-size="9.7" fill="#111111" stroke="#111111" stroke-width="0.3" textLength="98.0" lengthAdjust="spacingAndGlyphs">Стоимость доллара, руб.</text>
<text x="184.5" y="89.4" font-size="9.7" fill="#111111" stroke="#111111" stroke-width="0.3" textLength="169.5" lengthAdjust="spacingAndGlyphs">Стоимость нефти марки Brent, $/баррель</text>
<text x="401.5" y="89.4" font-size="9.7" fill="#111111" stroke="#111111" stroke-width="0.3" textLength="94.5" lengthAdjust="spacingAndGlyphs">Интервенции ЦБ, $млн</text>
<text x="89.0" y="167.3" font-size="9.4" fill="#111111" stroke="#111111" stroke-width="0.4" textLength="32.8" lengthAdjust="spacingAndGlyphs" font-weight="bold">3 марта</text>
<text x="89.0" y="179.7" font-size="8.9" fill="#111111" stroke="#111111" stroke-width="0.33" textLength="76.1" lengthAdjust="spacingAndGlyphs">Накануне, 1 марта,</text>
<text x="89.0" y="189.3" font-size="8.9" fill="#111111" stroke="#111111" stroke-width="0.33" textLength="71.8" lengthAdjust="spacingAndGlyphs">Совет Федерации</text>
<text x="89.0" y="198.9" font-size="8.9" fill="#111111" stroke="#111111" stroke-width="0.33" textLength="90.0" lengthAdjust="spacingAndGlyphs">разрешил президенту</text>
<text x="89.0" y="208.5" font-size="8.9" fill="#111111" stroke="#111111" stroke-width="0.33" textLength="92.8" lengthAdjust="spacingAndGlyphs"> России ввести войска</text>
<text x="89.0" y="218.1" font-size="8.9" fill="#111111" stroke="#111111" stroke-width="0.33" textLength="101.5" lengthAdjust="spacingAndGlyphs">на территорию Украины.</text>
<text x="89.0" y="227.7" font-size="8.9" fill="#111111" stroke="#111111" stroke-width="0.33" textLength="97.5" lengthAdjust="spacingAndGlyphs">США и Великобритания</text>
<text x="89.0" y="237.3" font-size="8.9" fill="#111111" stroke="#111111" stroke-width="0.33" textLength="108.4" lengthAdjust="spacingAndGlyphs">осудили действия Москвы</text>
<text x="89.0" y="246.9" font-size="8.9" fill="#111111" stroke="#111111" stroke-width="0.33" textLength="103.0" lengthAdjust="spacingAndGlyphs">и пригрозили политичес-</text>
<text x="89.0" y="256.5" font-size="8.9" fill="#111111" stroke="#111111" stroke-width="0.33" textLength="100.0" lengthAdjust="spacingAndGlyphs">кими и экономическими</text>
<text x="89.0" y="266.1" font-size="8.9" fill="#111111" stroke="#111111" stroke-width="0.33" textLength="64.2" lengthAdjust="spacingAndGlyphs">последствиями.</text>
<text x="209.6" y="185.4" font-size="10.8" fill="#cc0000" stroke="#cc0000" stroke-width="0.4" textLength="28.2" lengthAdjust="spacingAndGlyphs" font-weight="bold">11369</text>
<text x="248.7" y="167.3" font-size="9.4" fill="#111111" stroke="#111111" stroke-width="0.4" textLength="36.0" lengthAdjust="spacingAndGlyphs" font-weight="bold">17 марта</text>
<text x="248.7" y="179.7" font-size="8.9" fill="#111111" stroke="#111111" stroke-width="0.33" textLength="103.3" lengthAdjust="spacingAndGlyphs">США и ЕС ввели визовые</text>
<text x="248.7" y="189.3" font-size="8.9" fill="#111111" stroke="#111111" stroke-width="0.33" textLength="106.6" lengthAdjust="spacingAndGlyphs">и экономические санкции</text>
<text x="248.7" y="198.9" font-size="8.9" fill="#111111" stroke="#111111" stroke-width="0.33" textLength="74.2" lengthAdjust="spacingAndGlyphs">в отношении ряда</text>
<text x="248.7" y="208.5" font-size="8.9" fill="#111111" stroke="#111111" stroke-width="0.33" textLength="97.6" lengthAdjust="spacingAndGlyphs">российских и крымских</text>
<text x="248.7" y="218.1" font-size="8.9" fill="#111111" stroke="#111111" stroke-width="0.33" textLength="48.9" lengthAdjust="spacingAndGlyphs">чиновников</text>
<text x="424.6" y="167.3" font-size="9.4" fill="#111111" stroke="#111111" stroke-width="0.4" textLength="33.1" lengthAdjust="spacingAndGlyphs" font-weight="bold">16 июля</text>
<text x="424.6" y="179.7" font-size="8.9" fill="#111111" stroke="#111111" stroke-width="0.33" textLength="126.2" lengthAdjust="spacingAndGlyphs">Вашингтон ввел секторальные</text>
<text x="424.6" y="189.3" font-size="8.9" fill="#111111" stroke="#111111" stroke-width="0.33" textLength="110.4" lengthAdjust="spacingAndGlyphs">санкции в отношении ряда</text>
<text x="424.6" y="198.9" font-size="8.9" fill="#111111" stroke="#111111" stroke-width="0.33" textLength="102.4" lengthAdjust="spacingAndGlyphs">российских оборонных и</text>
<text x="424.6" y="208.5" font-size="8.9" fill="#111111" stroke="#111111" stroke-width="0.33" textLength="118.6" lengthAdjust="spacingAndGlyphs">сырьевых компаний, а также</text>
<text x="424.6" y="218.1" font-size="8.9" fill="#111111" stroke="#111111" stroke-width="0.33" textLength="103.1" lengthAdjust="spacingAndGlyphs">банков, лишив их выхода</text>
<text x="424.6" y="227.7" font-size="8.9" fill="#111111" stroke="#111111" stroke-width="0.33" textLength="103.6" lengthAdjust="spacingAndGlyphs">на рынок капиталов США</text>
<text x="565.6" y="167.3" font-size="9.4" fill="#111111" stroke="#111111" stroke-width="0.4" textLength="32.4" lengthAdjust="spacingAndGlyphs" font-weight="bold">17 июля</text>
<text x="565.6" y="176.7" font-size="8.9" fill="#111111" stroke="#111111" stroke-width="0.33" textLength="112.6" lengthAdjust="spacingAndGlyphs">Над территорией Донецкой</text>
<text x="565.6" y="186.3" font-size="8.9" fill="#111111" stroke="#111111" stroke-width="0.33" textLength="88.0" lengthAdjust="spacingAndGlyphs">области сбит «Боинг»</text>
<text x="565.6" y="195.9" font-size="8.9" fill="#111111" stroke="#111111" stroke-width="0.33" textLength="97.3" lengthAdjust="spacingAndGlyphs">авиакомпании Malaysia</text>
<text x="565.6" y="205.5" font-size="8.9" fill="#111111" stroke="#111111" stroke-width="0.33" textLength="73.2" lengthAdjust="spacingAndGlyphs">Airlines, летевший</text>
<text x="565.6" y="215.1" font-size="8.9" fill="#111111" stroke="#111111" stroke-width="0.33" textLength="96.5" lengthAdjust="spacingAndGlyphs">из Амстердама в Куала-</text>
<text x="565.6" y="224.7" font-size="8.9" fill="#111111" stroke="#111111" stroke-width="0.33" textLength="30.3" lengthAdjust="spacingAndGlyphs">Лумпур</text>
<text x="565.6" y="37.8" font-size="9.4" fill="#111111" stroke="#111111" stroke-width="0.4" textLength="39.6" lengthAdjust="spacingAndGlyphs" font-weight="bold">6 августа</text>
<text x="565.6" y="50.6" font-size="8.9" fill="#111111" stroke="#111111" stroke-width="0.33" textLength="54.4" lengthAdjust="spacingAndGlyphs">Россия ввела</text>
<text x="565.6" y="60.2" font-size="8.9" fill="#111111" stroke="#111111" stroke-width="0.33" textLength="81.2" lengthAdjust="spacingAndGlyphs">продовольственное</text>
<text x="565.6" y="69.8" font-size="8.9" fill="#111111" stroke="#111111" stroke-width="0.33" textLength="87.5" lengthAdjust="spacingAndGlyphs">эмбарго в отношении</text>
<text x="565.6" y="79.4" font-size="8.9" fill="#111111" stroke="#111111" stroke-width="0.33" textLength="70.7" lengthAdjust="spacingAndGlyphs">США, ЕС, Канады,</text>
<text x="565.6" y="89.0" font-size="8.9" fill="#111111" stroke="#111111" stroke-width="0.33" textLength="92.6" lengthAdjust="spacingAndGlyphs">Австралии и Норвегии</text>
<text x="665.3" y="37.8" font-size="9.4" fill="#111111" stroke="#111111" stroke-width="0.4" textLength="44.2" lengthAdjust="spacingAndGlyphs" font-weight="bold">28 августа</text>
<text x="665.3" y="50.6" font-size="8.9" fill="#111111" stroke="#111111" stroke-width="0.33" textLength="103.9" lengthAdjust="spacingAndGlyphs">Президент Украины Петр</text>
<text x="665.3" y="60.2" font-size="8.9" fill="#111111" stroke="#111111" stroke-width="0.33" textLength="99.3" lengthAdjust="spacingAndGlyphs">Порошенко официально</text>
<text x="665.3" y="69.8" font-size="8.9" fill="#111111" stroke="#111111" stroke-width="0.33" textLength="92.0" lengthAdjust="spacingAndGlyphs">объявил о российском</text>
<text x="665.3" y="79.4" font-size="8.9" fill="#111111" stroke="#111111" stroke-width="0.33" textLength="90.5" lengthAdjust="spacingAndGlyphs">«вторжении» в страну</text>
<text x="705.0" y="97.2" font-size="9.4" fill="#111111" stroke="#111111" stroke-width="0.4" textLength="46.0" lengthAdjust="spacingAndGlyphs" font-weight="bold">5 сентября</text>
<text x="705.0" y="110.1" font-size="8.9" fill="#111111" stroke="#111111" stroke-width="0.33" textLength="98.6" lengthAdjust="spacingAndGlyphs">Россия, Украина и ОБСЕ</text>
<text x="705.0" y="119.7" font-size="8.9" fill="#111111" stroke="#111111" stroke-width="0.33" textLength="82.8" lengthAdjust="spacingAndGlyphs">заключили Минское</text>
<text x="705.0" y="129.3" font-size="8.9" fill="#111111" stroke="#111111" stroke-width="0.33" textLength="102.0" lengthAdjust="spacingAndGlyphs">соглашение о прекраще-</text>
<text x="705.0" y="138.9" font-size="8.9" fill="#111111" stroke="#111111" stroke-width="0.33" textLength="85.4" lengthAdjust="spacingAndGlyphs">нии огня в Донецкой</text>
<text x="705.0" y="148.5" font-size="8.9" fill="#111111" stroke="#111111" stroke-width="0.33" textLength="88.5" lengthAdjust="spacingAndGlyphs">и Луганской областях</text>
<text x="705.0" y="167.3" font-size="9.4" fill="#111111" stroke="#111111" stroke-width="0.4" textLength="49.4" lengthAdjust="spacingAndGlyphs" font-weight="bold">12 сентября</text>
<text x="705.0" y="179.7" font-size="8.9" fill="#111111" stroke="#111111" stroke-width="0.33" textLength="86.9" lengthAdjust="spacingAndGlyphs">США и ЕС расширили</text>
<text x="705.0" y="189.3" font-size="8.9" fill="#111111" stroke="#111111" stroke-width="0.33" textLength="97.8" lengthAdjust="spacingAndGlyphs">санкции против России.</text>
<text x="705.0" y="198.9" font-size="8.9" fill="#111111" stroke="#111111" stroke-width="0.33" textLength="103.9" lengthAdjust="spacingAndGlyphs">ЕС, в частности, сократил</text>
<text x="705.0" y="208.5" font-size="8.9" fill="#111111" stroke="#111111" stroke-width="0.33" textLength="107.6" lengthAdjust="spacingAndGlyphs">срок разрешенного долго-</text>
<text x="705.0" y="218.1" font-size="8.9" fill="#111111" stroke="#111111" stroke-width="0.33" textLength="91.1" lengthAdjust="spacingAndGlyphs">вого финансирования</text>
<text x="705.0" y="227.7" font-size="8.9" fill="#111111" stroke="#111111" stroke-width="0.33" textLength="68.2" lengthAdjust="spacingAndGlyphs">ряда российских</text>
<text x="705.0" y="237.3" font-size="8.9" fill="#111111" stroke="#111111" stroke-width="0.33" textLength="86.9" lengthAdjust="spacingAndGlyphs">компаний до 30 дней</text>
<text x="748.3" y="258.4" font-size="9.4" fill="#111111" stroke="#111111" stroke-width="0.4" textLength="51.3" lengthAdjust="spacingAndGlyphs" font-weight="bold">30 сентября</text>
<text x="748.3" y="271.2" font-size="8.9" fill="#111111" stroke="#111111" stroke-width="0.33" textLength="89.9" lengthAdjust="spacingAndGlyphs">Источники Bloomberg</text>
<text x="748.3" y="280.7" font-size="8.9" fill="#111111" stroke="#111111" stroke-width="0.33" textLength="104.8" lengthAdjust="spacingAndGlyphs">сообщили о возможности</text>
<text x="748.3" y="290.3" font-size="8.9" fill="#111111" stroke="#111111" stroke-width="0.33" textLength="104.0" lengthAdjust="spacingAndGlyphs">введения Банком России</text>
<text x="748.3" y="299.8" font-size="8.9" fill="#111111" stroke="#111111" stroke-width="0.33" textLength="108.7" lengthAdjust="spacingAndGlyphs">ограничения на движение</text>
<text x="748.3" y="309.3" font-size="8.9" fill="#111111" stroke="#111111" stroke-width="0.33" textLength="74.6" lengthAdjust="spacingAndGlyphs">капитала в случае</text>
<text x="748.3" y="318.8" font-size="8.9" fill="#111111" stroke="#111111" stroke-width="0.33" textLength="94.3" lengthAdjust="spacingAndGlyphs">усиления его оттока из</text>
<text x="748.3" y="328.4" font-size="8.9" fill="#111111" stroke="#111111" stroke-width="0.33" textLength="29.3" lengthAdjust="spacingAndGlyphs">страны</text>
<text x="817.5" y="37.8" font-size="9.4" fill="#111111" stroke="#111111" stroke-width="0.4" textLength="45.7" lengthAdjust="spacingAndGlyphs" font-weight="bold">27 октября</text>
<text x="817.5" y="50.6" font-size="8.9" fill="#111111" stroke="#111111" stroke-width="0.33" textLength="92.0" lengthAdjust="spacingAndGlyphs">ЦБ запустил валютное</text>
<text x="817.5" y="60.2" font-size="8.9" fill="#111111" stroke="#111111" stroke-width="0.33" textLength="21.9" lengthAdjust="spacingAndGlyphs">РЕПО</text>
<text x="852.7" y="97.2" font-size="9.4" fill="#111111" stroke="#111111" stroke-width="0.4" textLength="41.6" lengthAdjust="spacingAndGlyphs" font-weight="bold">10 ноября</text>
<text x="852.7" y="110.1" font-size="8.9" fill="#111111" stroke="#111111" stroke-width="0.33" textLength="65.4" lengthAdjust="spacingAndGlyphs">ЦБ отказался от</text>
<text x="852.7" y="119.7" font-size="8.9" fill="#111111" stroke="#111111" stroke-width="0.33" textLength="91.2" lengthAdjust="spacingAndGlyphs">регулярных валютных</text>
<text x="852.7" y="129.3" font-size="8.9" fill="#111111" stroke="#111111" stroke-width="0.33" textLength="60.3" lengthAdjust="spacingAndGlyphs">интервенций и</text>
<text x="852.7" y="138.9" font-size="8.9" fill="#111111" stroke="#111111" stroke-width="0.33" textLength="94.8" lengthAdjust="spacingAndGlyphs">бивалютного коридора</text>
<text x="859.0" y="167.3" font-size="9.4" fill="#111111" stroke="#111111" stroke-width="0.4" textLength="46.6" lengthAdjust="spacingAndGlyphs" font-weight="bold">16 декабря</text>
<text x="859.0" y="179.7" font-size="8.9" fill="#111111" stroke="#111111" stroke-width="0.33" textLength="86.2" lengthAdjust="spacingAndGlyphs">В ночь на 16 декабря</text>
<text x="859.0" y="189.3" font-size="8.9" fill="#111111" stroke="#111111" stroke-width="0.33" textLength="87.0" lengthAdjust="spacingAndGlyphs">ЦБ поднял ключевую</text>
<text x="859.0" y="198.9" font-size="8.9" fill="#111111" stroke="#111111" stroke-width="0.33" textLength="82.9" lengthAdjust="spacingAndGlyphs">ставку на 6,5 п.п., до</text>
<text x="859.0" y="208.5" font-size="8.9" fill="#111111" stroke="#111111" stroke-width="0.33" textLength="15.7" lengthAdjust="spacingAndGlyphs">17%</text>
<text x="217.1" y="375.0" font-size="10.8" fill="#cc0000" stroke="#cc0000" stroke-width="0.4" textLength="24.6" lengthAdjust="spacingAndGlyphs" font-weight="bold">4407</text>
<text x="762.5" y="446.7" font-size="10.8" fill="#cc0000" stroke="#cc0000" stroke-width="0.4" textLength="23.7" lengthAdjust="spacingAndGlyphs" font-weight="bold">2720</text>
<text x="823.1" y="437.7" font-size="10.8" fill="#cc0000" stroke="#cc0000" stroke-width="0.4" textLength="24.3" lengthAdjust="spacingAndGlyphs" font-weight="bold">2928</text>
<text x="913.4" y="473.0" font-size="10.8" fill="#cc0000" stroke="#cc0000" stroke-width="0.4" textLength="23.8" lengthAdjust="spacingAndGlyphs" font-weight="bold">2383</text>
<text x="945.3" y="442.0" font-size="10.8" fill="#0c7a8a" stroke="#0c7a8a" stroke-width="0.4" textLength="26.1" lengthAdjust="spacingAndGlyphs" font-weight="bold">67,91</text>
<text x="972.5" y="472.0" font-size="10.8" fill="#111" stroke="#111" stroke-width="0.4" textLength="23.2" lengthAdjust="spacingAndGlyphs" font-weight="bold">61,21</text>
<text x="971.9" y="490.9" font-size="10.8" fill="#0c7a8a" stroke="#0c7a8a" stroke-width="0.4" textLength="27.8" lengthAdjust="spacingAndGlyphs" font-weight="bold">54,86</text>
<text x="42.0" y="300.6" font-size="10.8" fill="#111" stroke="#111" stroke-width="0.4" textLength="24.6" lengthAdjust="spacingAndGlyphs" font-weight="bold">110,8</text>
<text x="19.2" y="557.5" font-size="10.8" fill="#0c7a8a" stroke="#0c7a8a" stroke-width="0.4" textLength="28.2" lengthAdjust="spacingAndGlyphs" font-weight="bold">32,86</text>
<text x="974.8" y="311.8" font-size="11.3" fill="#cc0000" textLength="20.5" lengthAdjust="spacingAndGlyphs">6000</text>
<text x="974.8" y="442.3" font-size="11.3" fill="#cc0000" textLength="20.1" lengthAdjust="spacingAndGlyphs">3000</text>
<text x="974.9" y="571.0" font-size="11.3" fill="#cc0000" textLength="4.3" lengthAdjust="spacingAndGlyphs">0</text>
<text x="33.2" y="280.6" font-size="9.0" fill="#111111" stroke="#111111" stroke-width="0.25" textLength="12.9" lengthAdjust="spacingAndGlyphs">120</text>
<text x="33.2" y="312.7" font-size="9.0" fill="#111111" stroke="#111111" stroke-width="0.25" textLength="11.5" lengthAdjust="spacingAndGlyphs">110</text>
<text x="33.2" y="344.9" font-size="9.0" fill="#111111" stroke="#111111" stroke-width="0.25" textLength="12.9" lengthAdjust="spacingAndGlyphs">100</text>
<text x="33.2" y="377.0" font-size="9.0" fill="#111111" stroke="#111111" stroke-width="0.25" textLength="9.8" lengthAdjust="spacingAndGlyphs">90</text>
<text x="33.2" y="409.1" font-size="9.0" fill="#111111" stroke="#111111" stroke-width="0.25" textLength="9.8" lengthAdjust="spacingAndGlyphs">80</text>
<text x="33.2" y="441.2" font-size="9.0" fill="#111111" stroke="#111111" stroke-width="0.25" textLength="9.8" lengthAdjust="spacingAndGlyphs">70</text>
<text x="33.2" y="473.4" font-size="9.0" fill="#111111" stroke="#111111" stroke-width="0.25" textLength="9.8" lengthAdjust="spacingAndGlyphs">60</text>
<text x="33.2" y="505.5" font-size="9.0" fill="#111111" stroke="#111111" stroke-width="0.25" textLength="9.8" lengthAdjust="spacingAndGlyphs">50</text>
<text x="33.2" y="537.6" font-size="9.0" fill="#111111" stroke="#111111" stroke-width="0.25" textLength="9.8" lengthAdjust="spacingAndGlyphs">40</text>
<text x="33.2" y="569.8" font-size="9.0" fill="#111111" stroke="#111111" stroke-width="0.25" textLength="9.8" lengthAdjust="spacingAndGlyphs">30</text>
<text x="19.2" y="592.8" font-size="8.6" fill="#111111" stroke="#111111" stroke-width="0.3" textLength="62.0" lengthAdjust="spacingAndGlyphs">© РБК,25.12.2014</text>
<text x="907.8" y="592.8" font-size="8.6" fill="#111111" stroke="#111111" stroke-width="0.35" textLength="40.7" lengthAdjust="spacingAndGlyphs">Источники:</text>
<text x="950.8" y="592.8" font-size="8.6" fill="#111111" stroke="#111111" stroke-width="0.05" textLength="50.1" lengthAdjust="spacingAndGlyphs">ЦБ, Bloomberg</text>
</svg>
</body></html>
